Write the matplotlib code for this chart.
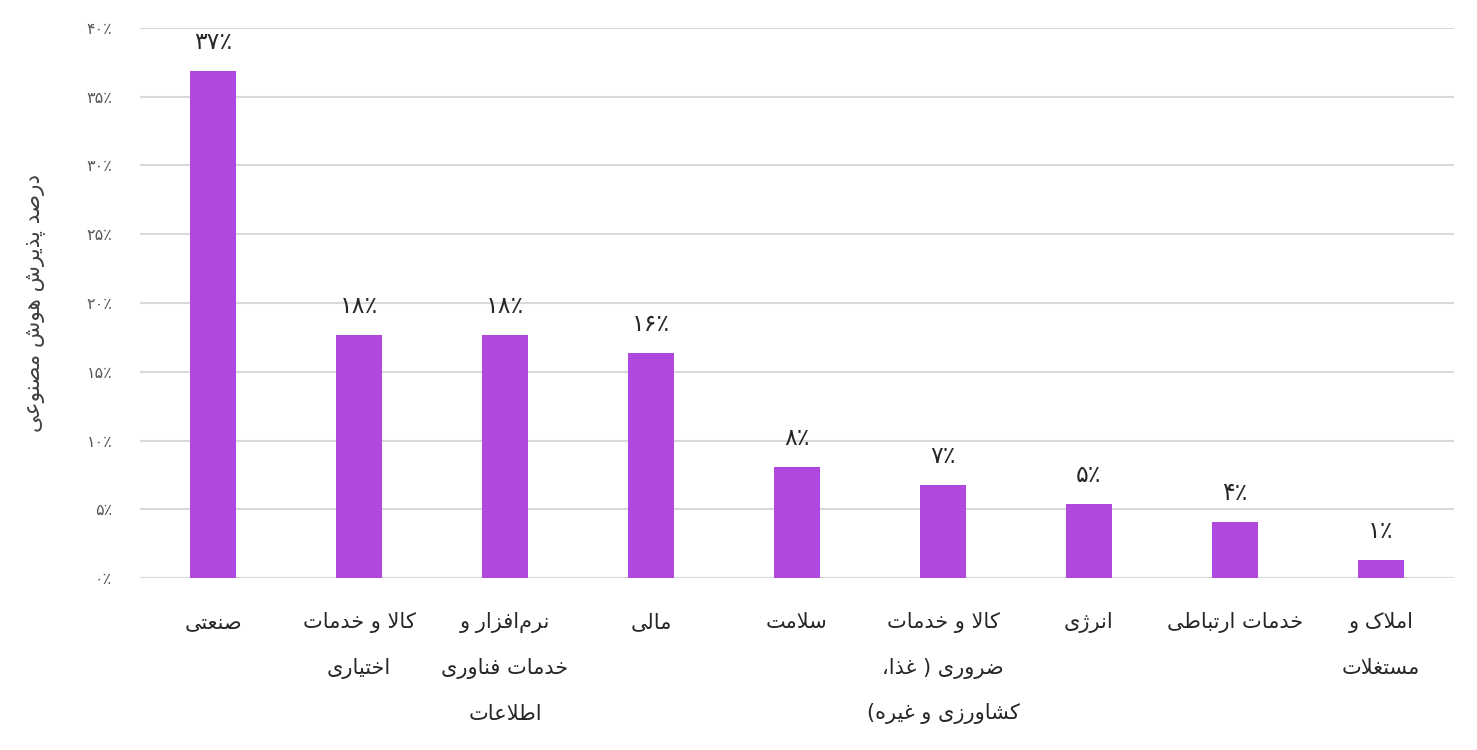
import matplotlib
matplotlib.use('Agg')
import matplotlib.pyplot as plt

# chart data
categories = ['صنعتی',
              'کالا و خدمات\nاختیاری',
              'نرم\u200cافزار و\nخدمات فناوری\nاطلاعات',
              'مالی',
              'سلامت',
              'کالا و خدمات\nضروری ( غذا،\nکشاورزی و غیره)',
              'انرژی',
              'خدمات ارتباطی',
              'املاک و\nمستغلات']
values = [36.9, 17.7, 17.7, 16.4, 8.1, 6.8, 5.4, 4.1, 1.3]
y_ticks = [0, 5, 10, 15, 20, 25, 30, 35, 40]
y_title = 'درصد پذیرش هوش مصنوعی'

# arabic presentation forms: (isolated, final, initial, medial)
FORMS = {
    'ء': ('\uFE80',),
    'آ': ('\uFE81', '\uFE82'),
    'أ': ('\uFE83', '\uFE84'),
    'ؤ': ('\uFE85', '\uFE86'),
    'إ': ('\uFE87', '\uFE88'),
    'ئ': ('\uFE89', '\uFE8A', '\uFE8B', '\uFE8C'),
    'ا': ('\uFE8D', '\uFE8E'),
    'ب': ('\uFE8F', '\uFE90', '\uFE91', '\uFE92'),
    'ة': ('\uFE93', '\uFE94'),
    'ت': ('\uFE95', '\uFE96', '\uFE97', '\uFE98'),
    'ث': ('\uFE99', '\uFE9A', '\uFE9B', '\uFE9C'),
    'ج': ('\uFE9D', '\uFE9E', '\uFE9F', '\uFEA0'),
    'ح': ('\uFEA1', '\uFEA2', '\uFEA3', '\uFEA4'),
    'خ': ('\uFEA5', '\uFEA6', '\uFEA7', '\uFEA8'),
    'د': ('\uFEA9', '\uFEAA'),
    'ذ': ('\uFEAB', '\uFEAC'),
    'ر': ('\uFEAD', '\uFEAE'),
    'ز': ('\uFEAF', '\uFEB0'),
    'س': ('\uFEB1', '\uFEB2', '\uFEB3', '\uFEB4'),
    'ش': ('\uFEB5', '\uFEB6', '\uFEB7', '\uFEB8'),
    'ص': ('\uFEB9', '\uFEBA', '\uFEBB', '\uFEBC'),
    'ض': ('\uFEBD', '\uFEBE', '\uFEBF', '\uFEC0'),
    'ط': ('\uFEC1', '\uFEC2', '\uFEC3', '\uFEC4'),
    'ظ': ('\uFEC5', '\uFEC6', '\uFEC7', '\uFEC8'),
    'ع': ('\uFEC9', '\uFECA', '\uFECB', '\uFECC'),
    'غ': ('\uFECD', '\uFECE', '\uFECF', '\uFED0'),
    'ف': ('\uFED1', '\uFED2', '\uFED3', '\uFED4'),
    'ق': ('\uFED5', '\uFED6', '\uFED7', '\uFED8'),
    'ل': ('\uFEDD', '\uFEDE', '\uFEDF', '\uFEE0'),
    'م': ('\uFEE1', '\uFEE2', '\uFEE3', '\uFEE4'),
    'ن': ('\uFEE5', '\uFEE6', '\uFEE7', '\uFEE8'),
    'ه': ('\uFEE9', '\uFEEA', '\uFEEB', '\uFEEC'),
    'و': ('\uFEED', '\uFEEE'),
    'پ': ('\uFB56', '\uFB57', '\uFB58', '\uFB59'),
    'چ': ('\uFB7A', '\uFB7B', '\uFB7C', '\uFB7D'),
    'ژ': ('\uFB8A', '\uFB8B'),
    'ک': ('\uFB8E', '\uFB8F', '\uFB90', '\uFB91'),
    'گ': ('\uFB92', '\uFB93', '\uFB94', '\uFB95'),
    'ی': ('\uFEEF', '\uFEF0', '\uFEF3', '\uFEF4'),
}
LAM_ALEF = {'ا': ('\uFEFB', '\uFEFC'), 'آ': ('\uFEF5', '\uFEF6'),
            'أ': ('\uFEF7', '\uFEF8'), 'إ': ('\uFEF9', '\uFEFA')}
MIRROR = {'(': ')', ')': '('}


def dual(c):
    return c in FORMS and len(FORMS[c]) == 4


def joins(c):
    return c in FORMS and len(FORMS[c]) >= 2


def rtl(line):
    # shape letters, then lay the line out right to left
    out = []
    i = 0
    n = len(line)
    while i < n:
        c = line[i]
        prev = line[i - 1] if i > 0 else ''
        nxt = line[i + 1] if i + 1 < n else ''
        if c not in FORMS:
            if c != '\u200c':
                out.append(MIRROR.get(c, c))
            i += 1
            continue
        jp = dual(prev) and joins(c)
        if c == 'ل' and nxt in LAM_ALEF:
            out.append(LAM_ALEF[nxt][1 if jp else 0])
            i += 2
            continue
        jn = dual(c) and joins(nxt)
        f = FORMS[c]
        if jp and jn:
            out.append(f[3])
        elif jn:
            out.append(f[2])
        elif jp:
            out.append(f[1])
        else:
            out.append(f[0])
        i += 1
    return ''.join(reversed(out))


def fa_num(v):
    return str(v).translate(str.maketrans('0123456789', '۰۱۲۳۴۵۶۷۸۹')) + '٪'


plt.rcParams['font.family'] = ['DejaVu Sans']

fig = plt.figure(figsize=(14.77, 7.5), dpi=100)
ax = fig.add_axes([0.0948, 0.2293, 0.8896, 0.7334])

x = list(range(len(categories)))
ax.bar(x, values, width=0.315, color='#b048e0', zorder=3)

for xi, v in zip(x, values):
    ax.annotate(fa_num(round(v)), (xi, v), xytext=(0, 12), textcoords='offset points',
                ha='center', va='bottom', fontsize=17, color='#262626')

ax.set_xlim(-0.5, len(categories) - 0.5)
ax.set_ylim(0, 40)
ax.set_yticks(y_ticks)
ax.set_yticklabels([fa_num(t) for t in y_ticks], fontsize=11.5, color='#595959')
ax.tick_params(axis='y', length=0, pad=20)
ax.set_xticks([])
ax.yaxis.grid(True, color='#d9d9d9', linewidth=1.5, zorder=0)
for s in ax.spines.values():
    s.set_visible(False)
ax.axhline(0, color='#d9d9d9', linewidth=1.5, zorder=2)

# multi-line category labels under the bars
for xi, lab in zip(x, categories):
    for k, line in enumerate(lab.split('\n')):
        ax.annotate(rtl(line), (xi, 0), xycoords=('data', 'axes fraction'),
                    xytext=(0, -31.7 - 33.1 * k), textcoords='offset points',
                    ha='center', va='center', fontsize=15, color='#262626')

ax.set_ylabel(rtl(y_title), fontsize=15.5, color='#404040', labelpad=30)

fig.savefig('out.png', dpi=100)
